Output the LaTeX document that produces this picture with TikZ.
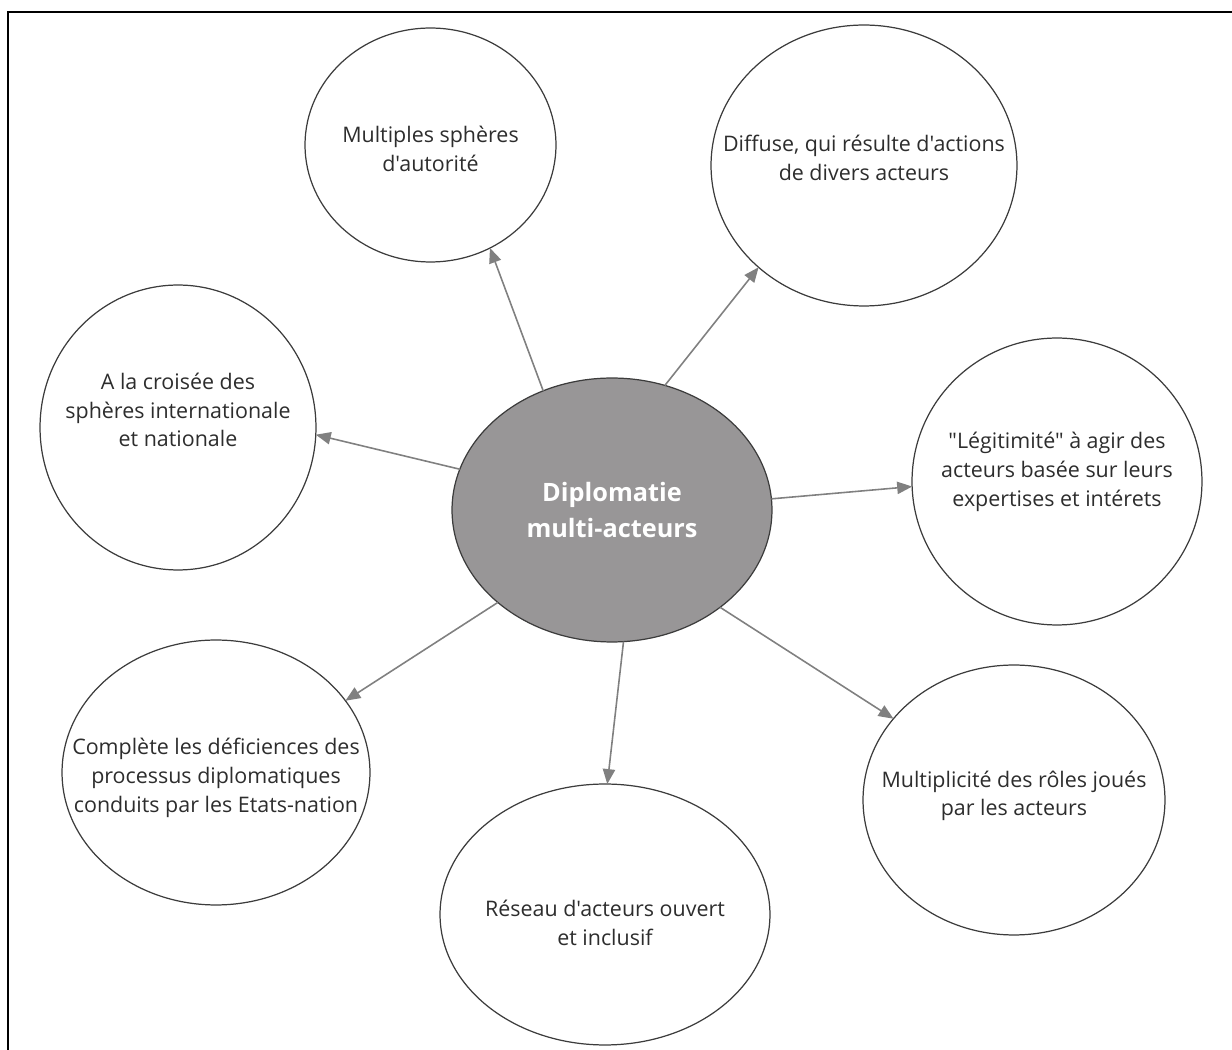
\documentclass[tikz,border=0pt]{standalone}
\usepackage{fontspec}
\setmainfont{Open Sans}[Ligatures=TeXOff]
\usetikzlibrary{arrows.meta,shapes.geometric}

\definecolor{hubfill}{RGB}{152,150,151}
\definecolor{hubline}{RGB}{60,60,60}
\definecolor{spokegray}{RGB}{128,128,128}
\definecolor{textgray}{RGB}{45,45,45}

\tikzset{
  bubble/.style={
    ellipse,
    draw = hubline,
    line width = 0.7pt,
    inner sep = 0,
    outer sep = 0,
  },
  bubbletext/.style={
    align = center,
    text = textgray,
    font = \fontsize{12.2}{16.3}\selectfont,
  },
  spoke/.style={
    draw = spokegray,
    line width = 0.9pt,
    -{Triangle[length=8.5pt, width=7pt]},
  },
}

\begin{document}
\begin{tikzpicture}[x=0.02cm, y=-0.02cm]
  \useasboundingbox (0,0) rectangle (1232,1050);
  \draw[line width=1.2pt] (8,1050) -- (8,12) -- (1232,12);

  \node[
    bubble,
    fill = hubfill,
    minimum width = 6.4cm,
    minimum height = 5.28cm,
  ] (hub) at (612,510) {};
  \node[
    align = center,
    text = white,
    font = \bfseries\fontsize{14.4}{20.5}\selectfont,
  ] (hub-t) at (612,510) {Diplomatie\\multi-acteurs};

  \node[bubble, minimum width = 5.02cm, minimum height = 4.68cm] (sph) at (430.5,145) {};
  \node[bubbletext] (sph-t) at (430.5,149) {Multiples sphères\\d'autorité};

  \node[bubble, minimum width = 6.12cm, minimum height = 5.62cm] (dif) at (864,165.5) {};
  \node[bubbletext] (dif-t) at (864,158) {Diffuse, qui résulte d'actions\\de divers acteurs};

  \node[bubble, minimum width = 5.52cm, minimum height = 5.7cm] (cro) at (178,427.5) {};
  \node[bubbletext] (cro-t) at (178,410) {A la croisée des\\sphères internationale\\et nationale};

  \node[bubble, minimum width = 5.8cm, minimum height = 5.74cm] (leg) at (1057,481.5) {};
  \node[bubbletext] (leg-t) at (1057,472) {"Légitimité" à agir des\\acteurs basée sur leurs\\expertises et intérets};

  \node[bubble, minimum width = 6.16cm, minimum height = 5.3cm] (cpl) at (216,772.5) {};
  \node[bubbletext] (cpl-t) at (216,778) {Complète les déficiences des\\processus diplomatiques\\conduits par les Etats-nation};

  \node[bubble, minimum width = 6.6cm, minimum height = 5.22cm] (res) at (605,914.5) {};
  \node[bubbletext] (res-t) at (605,923) {Réseau d'acteurs ouvert\\et inclusif};

  \node[bubble, minimum width = 6.04cm, minimum height = 5.4cm] (mul) at (1014,800) {};
  \node[bubbletext] (mul-t) at (1014,796) {Multiplicité des rôles joués\\par les acteurs};

  % spokes from the hub
  \foreach \dst/\sa/\ea in {
    sph/120.2/-60.6,
    dif/67/-136.1,
    cro/165.4/-3.5,
    leg/4.6/182.2,
    cpl/-141/29.9,
    res/-85.7/89.1,
    mul/-42.3/146.1
  }{
    \draw[spoke] (hub.\sa) -- (\dst.\ea);
  }
\end{tikzpicture}
\end{document}
